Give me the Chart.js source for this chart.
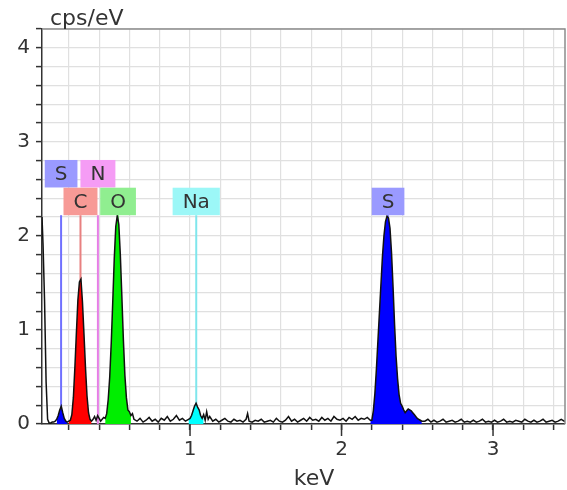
<!DOCTYPE html>
<html lang="en">
<head>
<meta charset="UTF-8">
<title>EDS spectrum</title>
<script src="https://cdn.jsdelivr.net/npm/chart.js"></script>
<style>
    html, body { margin: 0; padding: 0; background: #ffffff; }
    #wrap { width: 567px; height: 490px; }
</style>
</head>
<body>
<div id="wrap"><canvas id="spectrum" width="567" height="490"></canvas></div>
<script>
// spectrum (keV vs cps/eV)
const energyKeV = [
    0.023, 0.03, 0.04, 0.05, 0.06, 0.07, 0.08, 0.09, 0.10, 0.11,
    0.12, 0.13, 0.14, 0.15, 0.16, 0.17, 0.18, 0.19, 0.20, 0.21,
    0.22, 0.23, 0.24, 0.25, 0.26, 0.27, 0.28, 0.29, 0.30, 0.31,
    0.32, 0.33, 0.34, 0.35, 0.36, 0.37, 0.38, 0.39, 0.40, 0.41,
    0.42, 0.43, 0.44, 0.45, 0.46, 0.47, 0.48, 0.49, 0.50, 0.51,
    0.52, 0.53, 0.54, 0.55, 0.56, 0.57, 0.58, 0.59, 0.60, 0.61,
    0.62, 0.63, 0.65, 0.67, 0.69, 0.71, 0.73, 0.75, 0.77, 0.79,
    0.81, 0.83, 0.85, 0.87, 0.89, 0.91, 0.93, 0.95, 0.97, 0.99,
    1.00, 1.01, 1.02, 1.03, 1.04, 1.05, 1.06, 1.07, 1.08, 1.09,
    1.10, 1.11, 1.12, 1.13, 1.15, 1.17, 1.19, 1.21, 1.23, 1.25,
    1.27, 1.29, 1.31, 1.33, 1.35, 1.37, 1.38, 1.39, 1.41, 1.43,
    1.45, 1.47, 1.49, 1.51, 1.53, 1.55, 1.57, 1.59, 1.61, 1.63,
    1.65, 1.67, 1.69, 1.71, 1.73, 1.75, 1.77, 1.79, 1.81, 1.83,
    1.85, 1.87, 1.89, 1.91, 1.93, 1.95, 1.97, 1.99, 2.01, 2.03,
    2.05, 2.07, 2.09, 2.11, 2.13, 2.15, 2.17, 2.19, 2.20, 2.21,
    2.22, 2.23, 2.24, 2.25, 2.26, 2.27, 2.28, 2.29, 2.30, 2.31,
    2.32, 2.33, 2.34, 2.35, 2.36, 2.37, 2.38, 2.39, 2.40, 2.41,
    2.42, 2.43, 2.44, 2.45, 2.46, 2.47, 2.48, 2.49, 2.50, 2.51,
    2.52, 2.53, 2.55, 2.57, 2.59, 2.61, 2.63, 2.65, 2.67, 2.69,
    2.71, 2.73, 2.75, 2.77, 2.79, 2.81, 2.83, 2.85, 2.87, 2.89,
    2.91, 2.93, 2.95, 2.97, 2.99, 3.01, 3.03, 3.05, 3.07, 3.09,
    3.11, 3.13, 3.15, 3.17, 3.19, 3.21, 3.23, 3.25, 3.27, 3.29,
    3.31, 3.33, 3.35, 3.37, 3.39, 3.41, 3.43, 3.45, 3.47, 3.475
];
const countsPerEv = [
    2.2, 1.9, 1.3, 0.45, 0.05, 0.01, 0.01, 0.02, 0.02, 0.03,
    0.05, 0.09, 0.15, 0.19, 0.12, 0.06, 0.03, 0.02, 0.03, 0.04,
    0.10, 0.28, 0.60, 0.97, 1.32, 1.51, 1.54, 1.30, 0.96, 0.60,
    0.30, 0.12, 0.05, 0.03, 0.05, 0.08, 0.04, 0.09, 0.06, 0.03,
    0.05, 0.07, 0.06, 0.11, 0.26, 0.50, 0.86, 1.30, 1.76, 2.10,
    2.22, 2.12, 1.80, 1.36, 0.90, 0.52, 0.28, 0.15, 0.13, 0.09,
    0.11, 0.05, 0.03, 0.06, 0.02, 0.04, 0.07, 0.03, 0.05, 0.02,
    0.06, 0.04, 0.08, 0.03, 0.05, 0.09, 0.04, 0.06, 0.03, 0.05,
    0.06, 0.09, 0.14, 0.19, 0.22, 0.18, 0.15, 0.09, 0.06, 0.10,
    0.04, 0.13, 0.05, 0.08, 0.03, 0.05, 0.02, 0.04, 0.06, 0.03,
    0.02, 0.05, 0.03, 0.04, 0.02, 0.05, 0.11, 0.03, 0.02, 0.04,
    0.03, 0.05, 0.02, 0.03, 0.04, 0.02, 0.06, 0.03, 0.02, 0.04,
    0.08, 0.03, 0.05, 0.02, 0.04, 0.06, 0.03, 0.07, 0.04, 0.05,
    0.03, 0.07, 0.04, 0.06, 0.03, 0.08, 0.05, 0.04, 0.06, 0.03,
    0.07, 0.05, 0.08, 0.04, 0.06, 0.05, 0.07, 0.04, 0.04, 0.14,
    0.32, 0.58, 0.88, 1.18, 1.48, 1.78, 2.00, 2.15, 2.21, 2.19,
    2.08, 1.82, 1.46, 1.06, 0.72, 0.48, 0.31, 0.22, 0.19, 0.15,
    0.12, 0.14, 0.16, 0.15, 0.14, 0.12, 0.10, 0.08, 0.06, 0.05,
    0.04, 0.03, 0.03, 0.05, 0.02, 0.04, 0.02, 0.03, 0.05, 0.02,
    0.03, 0.04, 0.02, 0.03, 0.05, 0.02, 0.03, 0.02, 0.04, 0.02,
    0.03, 0.05, 0.02, 0.03, 0.02, 0.04, 0.02, 0.03, 0.05, 0.02,
    0.03, 0.02, 0.04, 0.03, 0.02, 0.05, 0.03, 0.02, 0.04, 0.02,
    0.03, 0.05, 0.02, 0.03, 0.04, 0.02, 0.03, 0.05, 0.03, 0.03
];

// coloured peak areas
const peakFrom  = [0.12, 0.20, 0.44, 0.99, 2.19];
const peakTo    = [0.19, 0.35, 0.61, 1.09, 2.53];
const peakColor = ['#0000ff', '#ff0000', '#00ee00', '#00ffff', '#0000ff'];

// element marker lines (S-L, C, N, O, Na, S-K)
const lineEnergy = [0.149, 0.277, 0.392, 0.525, 1.041, 2.307];
const lineColor  = ['#7070ff', '#e88080', '#e67ee6', '#80ff80', '#7fe6ec', '#7070ff'];

// element labels
const labelText   = ['S', 'N', 'C', 'O', 'Na', 'S'];
const labelEnergy = [0.149, 0.392, 0.277, 0.525, 1.041, 2.307];
const labelRow    = [1, 1, 0, 0, 0, 0];
const labelFill   = ['#9a9aff', '#f59cf5', '#f79a96', '#90ee90', '#9cf7f7', '#9a9aff'];

// ticks
const xTicks = [0.2, 0.4, 0.6, 0.8, 1, 1.2, 1.4, 1.6, 1.8, 2, 2.2, 2.4, 2.6, 2.8, 3, 3.2, 3.4];
const xTickLabels = [1, 2, 3];
const yTicks = [0, 0.2, 0.4, 0.6, 0.8, 1, 1.2, 1.4, 1.6, 1.8, 2, 2.2, 2.4, 2.6, 2.8, 3, 3.2, 3.4, 3.6, 3.8, 4, 4.2];
const yTickLabels = [0, 1, 2, 3, 4];

const FONT = '"DejaVu Sans", Verdana, sans-serif';
const points = energyKeV.map((e, i) => ({ x: e, y: countsPerEv[i] }));
const isLabel = (list, v) => list.some(l => Math.abs(l - v) < 1e-6);

const datasets = [{
    data: points,
    borderColor: '#111111',
    borderWidth: 1.5,
    pointRadius: 0,
    fill: false
}];
peakFrom.forEach((from, i) => {
    datasets.push({
        data: points.filter(p => p.x >= from - 1e-9 && p.x <= peakTo[i] + 1e-9),
        borderWidth: 0,
        borderColor: peakColor[i],
        backgroundColor: peakColor[i],
        pointRadius: 0,
        fill: 'origin'
    });
});
lineEnergy.forEach((e, i) => {
    datasets.push({
        data: [{ x: e, y: 0 }, { x: e, y: 2.22 }],
        borderColor: lineColor[i],
        borderWidth: 2,
        pointRadius: 0,
        fill: false
    });
});

// frame, long major ticks, element boxes, axis titles
const edsDecor = {
    id: 'edsDecor',
    afterDatasetsDraw(chart) {
        const { ctx, chartArea: a, scales: { x, y } } = chart;
        ctx.save();
        ctx.strokeStyle = '#8c8c8c';
        ctx.lineWidth = 1.5;
        ctx.beginPath();
        ctx.moveTo(a.left, a.top);
        ctx.lineTo(a.right, a.top);
        ctx.lineTo(a.right, a.bottom);
        ctx.stroke();

        ctx.strokeStyle = '#333333';
        ctx.lineWidth = 1.5;
        xTickLabels.forEach(v => {
            const px = x.getPixelForValue(v);
            ctx.beginPath();
            ctx.moveTo(px, a.bottom);
            ctx.lineTo(px, a.bottom + 12);
            ctx.stroke();
        });

        ctx.font = '20px ' + FONT;
        ctx.textAlign = 'center';
        ctx.textBaseline = 'middle';
        labelText.forEach((t, i) => {
            const cx = x.getPixelForValue(labelEnergy[i]);
            const bottom = y.getPixelForValue(labelRow[i] ? 2.515 : 2.22);
            const h = 27.5;
            const w = ctx.measureText(t).width + 20;
            ctx.fillStyle = labelFill[i];
            ctx.fillRect(cx - w / 2, bottom - h, w, h);
            ctx.fillStyle = '#333333';
            ctx.fillText(t, cx, bottom - h / 2 + 1);
        });

        ctx.font = '22px ' + FONT;
        ctx.textBaseline = 'alphabetic';
        ctx.fillStyle = '#333333';
        ctx.textAlign = 'left';
        ctx.fillText('cps/eV', 50, 25);
        ctx.textAlign = 'center';
        ctx.fillText('keV', 314, 485);
        ctx.restore();
    }
};

new Chart(document.getElementById('spectrum'), {
    type: 'line',
    data: { datasets: datasets },
    options: {
        responsive: false,
        animation: false,
        layout: { padding: { top: 29, right: 2, left: 0, bottom: 0 } },
        plugins: { legend: { display: false }, tooltip: { enabled: false } },
        scales: {
            x: {
                type: 'linear',
                min: 0.023,
                max: 3.475,
                afterBuildTicks: s => { s.ticks = xTicks.map(v => ({ value: v })); },
                afterFit: s => { s.height = 66; },
                grid: { color: '#e0e0e0', lineWidth: 1.2, tickColor: '#333333', tickLength: 6, tickWidth: 1.5 },
                border: { color: '#333333', width: 1.5 },
                ticks: {
                    autoSkip: false,
                    maxRotation: 0,
                    padding: 8,
                    color: '#333333',
                    font: { family: FONT, size: 20 },
                    callback: v => isLabel(xTickLabels, v) ? String(v) : ''
                }
            },
            y: {
                type: 'linear',
                min: 0,
                max: 4.2,
                afterBuildTicks: s => { s.ticks = yTicks.map(v => ({ value: v })); },
                afterFit: s => { s.width = 42; },
                grid: { color: '#e0e0e0', lineWidth: 1.2, tickColor: '#333333', tickLength: 6, tickWidth: 1.5 },
                border: { color: '#333333', width: 1.5 },
                ticks: {
                    autoSkip: false,
                    padding: 6,
                    color: '#333333',
                    font: { family: FONT, size: 20 },
                    callback: v => isLabel(yTickLabels, v) ? String(v) : ''
                }
            }
        }
    },
    plugins: [edsDecor]
});
</script>
</body>
</html>
